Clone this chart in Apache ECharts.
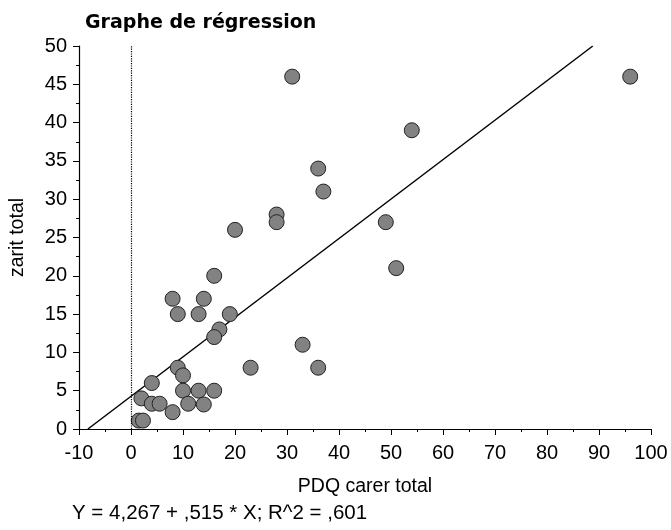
<!DOCTYPE html>
<html>
<head>
<meta charset="utf-8">
<script src="https://cdn.jsdelivr.net/npm/echarts@6/dist/echarts.min.js"></script>
<style>
html,body{margin:0;padding:0;background:#fff;}
#chart{width:671px;height:530px;}
</style>
</head>
<body>
<div id="chart"></div>
<script>
// PDQ carer total (x) and zarit total (y)
var pdqCarer = [96, 31, 54, 36, 37, 28, 28, 20, 49, 51, 16, 8, 14, 9, 13, 19, 17, 16, 33, 36, 23, 9, 10, 4, 10, 13, 16, 2, 4, 5.5, 11, 14, 8, 1.5, 2.3];
var zaritTotal = [46, 46, 39, 34, 31, 28, 27, 26, 27, 21, 20, 17, 17, 15, 15, 15, 13, 12, 11, 8, 8, 8, 7, 6, 5, 5, 5, 4, 3.3, 3.3, 3.3, 3.2, 2.2, 1.1, 1.1];
var intercept = 4.267;
var slope = 0.515;
var xTicks = {min: -10, max: 100, interval: 10};
var yTicks = {min: 0, max: 50, interval: 5};
var titleText = 'Graphe de régression';
var xName = 'PDQ carer total';
var yName = 'zarit total';
var equationText = 'Y = 4,267 + ,515 * X; R^2 = ,601';

var points = pdqCarer.map(function (x, i) { return [x, zaritTotal[i]]; });
// regression line clipped to y range
var xStart = (yTicks.min - intercept) / slope;
var xEnd = (yTicks.max - intercept) / slope;
var regLine = [[xStart, intercept + slope * xStart], [xEnd, intercept + slope * xEnd]];

var font = '"Liberation Sans", Arial, sans-serif';
var chart = echarts.init(document.getElementById('chart'), null, {renderer: 'canvas'});
chart.setOption({
  backgroundColor: '#fff',
  animation: false,
  title: {
    text: titleText,
    left: 80,
    top: 9,
    textStyle: {fontFamily: '"DejaVu Sans", sans-serif', fontWeight: 'bold', fontSize: 19, color: '#000'}
  },
  grid: {left: 77, right: 20, top: 46, bottom: 101, containLabel: false},
  xAxis: {
    type: 'value',
    min: xTicks.min, max: xTicks.max, interval: xTicks.interval,
    name: xName, nameLocation: 'middle', nameGap: 48,
    nameTextStyle: {fontFamily: font, fontSize: 19.5, color: '#000'},
    axisLine: {show: true, onZero: false, lineStyle: {color: '#000', width: 1.2}},
    axisTick: {show: true, inside: false, length: 6, lineStyle: {color: '#000'}},
    minorTick: {show: true, splitNumber: 2, length: 3, lineStyle: {color: '#000'}},
    splitLine: {show: false},
    axisLabel: {fontFamily: font, fontSize: 20, color: '#000', margin: 14}
  },
  yAxis: {
    type: 'value',
    min: yTicks.min, max: yTicks.max, interval: yTicks.interval,
    name: yName, nameLocation: 'middle', nameGap: 51,
    nameTextStyle: {fontFamily: font, fontSize: 19.5, color: '#000'},
    axisLine: {show: true, onZero: false, lineStyle: {color: '#000', width: 1.2}},
    axisTick: {show: true, inside: false, length: 6, lineStyle: {color: '#000'}},
    minorTick: {show: true, splitNumber: 2, length: 3, lineStyle: {color: '#000'}},
    splitLine: {show: false},
    axisLabel: {fontFamily: font, fontSize: 20, color: '#000', margin: 12}
  },
  graphic: [{
    type: 'text',
    left: 72,
    top: 503,
    style: {text: equationText, font: '20.5px ' + font, fill: '#000'}
  }],
  series: [{
    type: 'line',
    data: regLine,
    symbol: 'none',
    lineStyle: {color: '#000', width: 1.5},
    z: 1,
    silent: true
  }, {
    type: 'scatter',
    data: points,
    symbol: 'circle',
    symbolSize: 15,
    itemStyle: {color: '#828282', borderColor: '#222', borderWidth: 1, opacity: 1},
    z: 3,
    markLine: {
      silent: true,
      symbol: 'none',
      label: {show: false},
      lineStyle: {color: '#000', type: 'dotted', width: 1.2},
      data: [{xAxis: 0}]
    }
  }]
});
</script>
</body>
</html>
